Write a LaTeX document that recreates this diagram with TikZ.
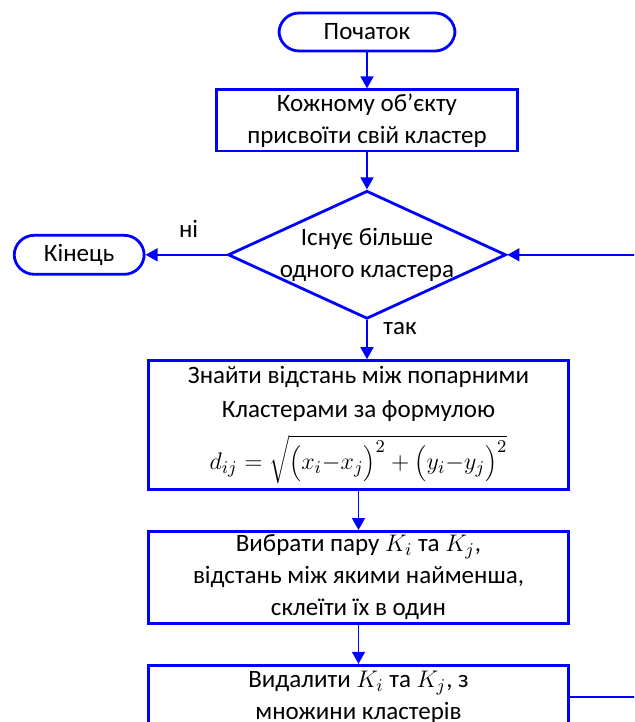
\documentclass[tikz,border=0pt]{standalone}
\usepackage{fontspec}
\setmainfont{Carlito}
\usepackage{tikz}
\usetikzlibrary{positioning,arrows.meta,shapes.geometric}

\begin{document}
\begin{tikzpicture}[
  node distance=20pt,
  every node/.style={font=\fontsize{12.5}{16}\selectfont},
  term/.style={rectangle, draw=blue, line width=1.4pt, rounded corners=10pt,
               minimum height=19pt, align=center},
  box/.style={rectangle, draw=blue, line width=1.4pt, minimum width=210pt,
              align=center, inner sep=1pt},
  cond/.style={diamond, draw=blue, line width=1.4pt, aspect=2.17,
               minimum width=139pt, minimum height=64pt, inner sep=-4pt, align=center},
  arrow/.style={-{Triangle[length=6pt,width=6.5pt]}, draw=blue, line width=0.8pt}
]
  \clip (-183.5pt,16pt) rectangle (133.5pt,-345pt);

  \node[term, minimum width=88pt] (start) {Початок};
  \node[box, below=18pt of start, minimum width=150.5pt, minimum height=30.6pt] (init)
    {Кожному об’єкту\\присвоїти свій кластер};
  \node[cond, below=18.5pt of init] (d) {Існує більше\\одного кластера};
  \node[term, left=40.5pt of d, minimum width=65pt, minimum height=19.5pt] (end) {Кінець};
  \node (no) at ([xshift=-19pt,yshift=13pt]d.west) {ні};
  \node (yes) at ([xshift=16.5pt,yshift=-4pt]d.south) {так};
  \node[box, below=19.5pt of d, xshift=-4.25pt, minimum height=64.5pt] (dist)
    {Знайти відстань між попарними\\[1pt]
     Кластерами за формулою\\[6pt]
     \fontsize{13}{16}\selectfont
     $d_{ij}=\sqrt{\Bigl(x_i{-}x_j\Bigr)^2+\Bigl(y_i{-}y_j\Bigr)^2}$};
  \node[box, below=19.5pt of dist, minimum height=46pt] (pick)
    {Вибрати пару $K_i$ та $K_j$,\\відстань між якими найменша,\\склеїти їх в один};
  \node[box, below=19.5pt of pick, minimum height=32pt] (del)
    {Видалити $K_i$ та $K_j$, з\\множини кластерів};

  \draw[arrow] (start) -- (init);
  \draw[arrow] (init) -- (d);
  \draw[arrow] (d) -- (end);
  \draw[arrow] (d.south) -- (d.south |- dist.north);
  \draw[arrow] (dist) -- (pick);
  \draw[arrow] (pick) -- (del);
  \draw[arrow] (del.east) -- ++(40pt,0) |- (d.east);
\end{tikzpicture}
\end{document}
